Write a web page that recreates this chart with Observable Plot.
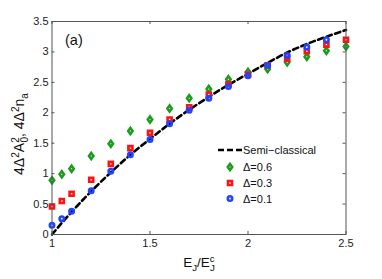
<!DOCTYPE html>
<html><head><meta charset="utf-8">
<script src="https://cdn.jsdelivr.net/npm/d3@7"></script>
<script src="https://cdn.jsdelivr.net/npm/@observablehq/plot@0.6"></script>
<style>html,body{margin:0;padding:0;background:#fff;} #chart svg{display:block;}</style>
</head><body><div id="chart"></div>
<script>
// ---- data ----
const xValues = [1, 1.05, 1.1, 1.2, 1.3, 1.4, 1.5, 1.6, 1.7, 1.8, 1.9, 2.0, 2.1, 2.2, 2.3, 2.4, 2.5];
const delta06 = [0.89, 0.99, 1.08, 1.29, 1.49, 1.70, 1.89, 2.07, 2.24, 2.39, 2.55, 2.67, 2.72, 2.83, 2.92, 3.02, 3.09];
const delta03 = [0.46, 0.55, 0.67, 0.90, 1.16, 1.42, 1.67, 1.89, 2.09, 2.30, 2.47, 2.63, 2.78, 2.89, 3.01, 3.12, 3.20];
const delta01 = [0.15, 0.26, 0.38, 0.72, 1.04, 1.31, 1.56, 1.82, 2.04, 2.24, 2.43, 2.61, 2.78, 2.94, 3.08, 3.20];
const semiClassical = [0, 0.19, 0.37, 0.71, 1.02, 1.31, 1.57, 1.82, 2.05, 2.26, 2.46, 2.64, 2.82, 2.99, 3.13, 3.25, 3.36];
const xTicks = [1, 1.5, 2, 2.5];
const yTicks = [0, 0.5, 1, 1.5, 2, 2.5, 3, 3.5];
const seriesNames = ["Δ=0.6", "Δ=0.3", "Δ=0.1"];
const seriesColors = ["#1c9c1c", "#ff1212", "#2144ff"];
const lineLabel = "Semi\u2212classical";

// ---- symbols ----
const tallDiamond = {draw(ctx, size) { const r = Math.sqrt(size / Math.PI);
  ctx.moveTo(0, -1.3 * r); ctx.lineTo(0.95 * r, 0); ctx.lineTo(0, 1.3 * r); ctx.lineTo(-0.95 * r, 0); ctx.closePath(); }};
const sq = {draw(ctx, size) { const r = Math.sqrt(size / Math.PI); ctx.rect(-r, -r, 2 * r, 2 * r); }};
const circ = {draw(ctx, size) { const r = Math.sqrt(size / Math.PI); ctx.moveTo(r, 0); ctx.arc(0, 0, r, 0, 2 * Math.PI); }};
const symbols = [tallDiamond, sq, circ];
const radii = [2.3, 2.0, 2.2];
const markStroke = 2.6;

const allSeries = [delta06, delta03, delta01];
const rows = allSeries.map(s => s.map((v, i) => ({x: xValues[i], y: v})));
const lineRows = semiClassical.map((v, i) => ({x: xValues[i], y: v}));

const W = 382, H = 279;
const mL = 51.5, mR = 36.5, mT = 21, mB = 45;
const font = "'Liberation Sans', Arial, Helvetica, sans-serif";

const chart = Plot.plot({
  width: W, height: H,
  marginLeft: mL, marginRight: mR, marginTop: mT, marginBottom: mB,
  x: {domain: [1, 2.5]},
  y: {domain: [0, 3.5]},
  style: {fontFamily: font, fontSize: "11px", background: "#fff", color: "#222"},
  marks: [
    Plot.lineY(lineRows, {x: "x", y: "y", stroke: "#000", strokeWidth: 2.6, strokeDasharray: "5.5,3.5", curve: "monotone-x"}),
    ...rows.map((r, k) => Plot.dot(r, {x: "x", y: "y", symbol: symbols[k], r: radii[k], stroke: seriesColors[k], fill: "none", strokeWidth: markStroke})),
    Plot.frame({stroke: "#555", strokeWidth: 1}),
    Plot.ruleX(xTicks, {x: d => d, y1: 0, y2: 0.05, stroke: "#555"}),
    Plot.ruleX(xTicks, {x: d => d, y1: 3.5, y2: 3.45, stroke: "#555"}),
    Plot.ruleY(yTicks, {y: d => d, x1: 1, x2: 1.015, stroke: "#555"}),
    Plot.ruleY(yTicks, {y: d => d, x1: 2.5, x2: 2.485, stroke: "#555"}),
    Plot.axisX(xTicks, {tickSize: 0, tickPadding: 5, label: null, tickFormat: d => String(d), fill: "#222"}),
    Plot.axisY(yTicks, {tickSize: 0, tickPadding: 3.5, label: null, tickFormat: d => String(d), fill: "#222"})
  ]
});
document.getElementById("chart").appendChild(chart);

const svg = d3.select(chart);

// (a) label
svg.append("text").attr("x", 65).attr("y", 45).attr("text-anchor", "start").attr("font-family", font).attr("font-size", 14.5).attr("fill", "#111").text("(a)");

// rich text with super/subscripts
function richText(g, parts, size) {
  let cur = 0;
  for (const p of parts) {
    const t = g.append("tspan").text(p.t);
    const target = p.s === 1 ? -5.5 : p.s === -1 ? 3.5 : 0;
    t.attr("dy", target - cur); cur = target;
    t.attr("font-size", p.s ? size * 0.72 : size);
    if (p.dx) t.attr("dx", p.dx);
  }
}
const yl = svg.append("text").attr("transform", "translate(24,134) rotate(-90)")
  .attr("text-anchor", "middle").attr("font-family", font).attr("fill", "#111");
richText(yl, [
  {t: "4Δ"}, {t: "2", s: 1}, {t: "A"}, {t: "2", s: 1}, {t: "0", s: -1, dx: -5.4},
  {t: ", 4Δ"}, {t: "2", s: 1}, {t: "n"}, {t: "a", s: -1}
], 14);

// X axis label
const xl = svg.append("text").attr("x", 199).attr("y", 267).attr("text-anchor", "middle")
  .attr("font-family", font).attr("fill", "#111");
richText(xl, [{t: "E"}, {t: "J", s: -1}, {t: "/E"}, {t: "c", s: 1}, {t: "J", s: -1, dx: -4.8}], 13.5);

// Legend
const lg = svg.append("g").attr("font-family", font).attr("font-size", 11).attr("fill", "#111").attr("text-anchor", "start");
lg.append("line").attr("x1", 218).attr("x2", 242).attr("y1", 150).attr("y2", 150)
  .attr("stroke", "#000").attr("stroke-width", 2.6).attr("stroke-dasharray", "6,3");
lg.append("text").attr("x", 243).attr("y", 154).text(lineLabel);
const ly = [167, 183, 198.5];
seriesNames.forEach((name, k) => {
  lg.append("path").attr("transform", `translate(230,${ly[k]})`)
    .attr("d", d3.symbol(symbols[k], Math.PI * radii[k] * radii[k])())
    .attr("fill", "none").attr("stroke", seriesColors[k]).attr("stroke-width", markStroke);
  lg.append("text").attr("x", 243).attr("y", ly[k] + 4).text(name);
});
</script>
</body></html>
